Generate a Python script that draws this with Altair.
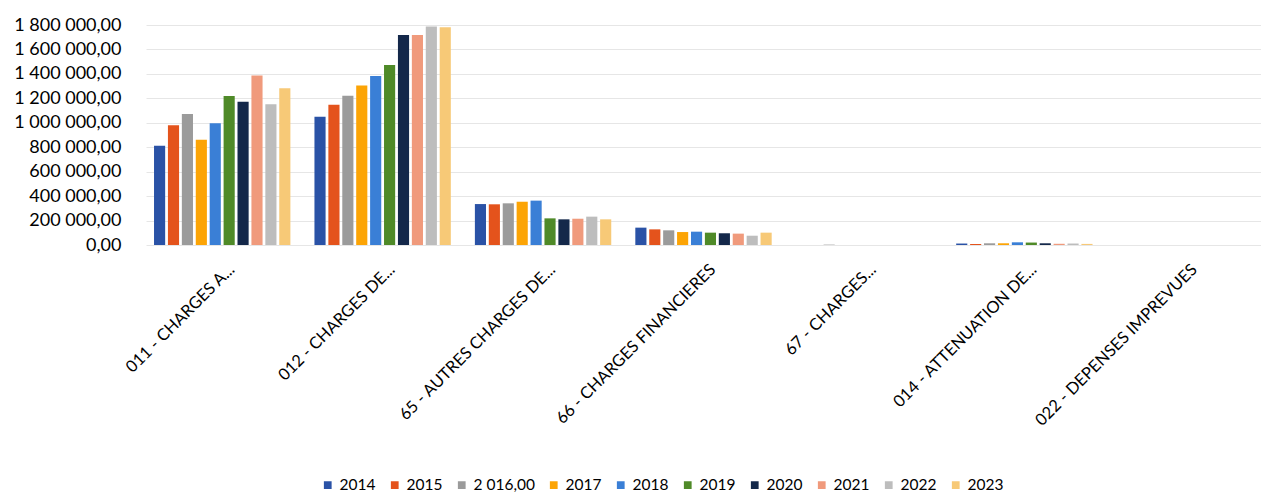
import altair as alt
import pandas as pd

categories = [
    "011 - CHARGES A...",
    "012 - CHARGES DE...",
    "65 - AUTRES CHARGES DE...",
    "66 - CHARGES FINANCIERES",
    "67 - CHARGES...",
    "014 - ATTENUATION DE...",
    "022 - DEPENSES IMPREVUES",
]
years = ["2014", "2015", "2 016,00", "2017", "2018", "2019", "2020", "2021", "2022", "2023"]
colors = ["#2a52a6", "#e4531c", "#9b9b9b", "#fca405", "#3a7fd6", "#4f8a28",
          "#14284a", "#f09a7c", "#bdbdbd", "#f7c977"]

v2014 = [812000, 1050000, 335000, 142000, 0, 12000, 0]
v2015 = [980000, 1148000, 333000, 128000, 0, 8000, 0]
v2016 = [1072000, 1222000, 341000, 120000, 3000, 14000, 0]
v2017 = [862000, 1304000, 354000, 106000, 0, 14000, 0]
v2018 = [996000, 1383000, 363000, 109000, 0, 22000, 0]
v2019 = [1219000, 1473000, 218000, 101000, 0, 20000, 0]
v2020 = [1173000, 1718000, 210000, 96000, 0, 14000, 0]
v2021 = [1386000, 1718000, 215000, 93000, 0, 10000, 0]
v2022 = [1151000, 1787000, 232000, 76000, 0, 12000, 0]
v2023 = [1282000, 1782000, 210000, 101000, 0, 9000, 0]

series = [v2014, v2015, v2016, v2017, v2018, v2019, v2020, v2021, v2022, v2023]
rows = []
for y, vals in zip(years, series):
    for c, v in zip(categories, vals):
        rows.append({"cat": c, "year": y, "value": v})
df = pd.DataFrame(rows)

fmt = "replace(replace(format(datum.value, ',.2f'), regexp(',', 'g'), ' '), '.', ',')"

chart = alt.Chart(df).mark_bar().encode(
    x=alt.X("cat:N", sort=categories,
            scale=alt.Scale(paddingInner=0.15, paddingOuter=0.05),
            axis=alt.Axis(title=None, labelAngle=-45, labelFontSize=16.5, labelFont="Lato",
                          labelColor="#000000", domain=False, ticks=False, labelLimit=400,
                          labelPadding=16, labelOffset=4)),
    xOffset=alt.XOffset("year:N", sort=years, scale=alt.Scale(paddingInner=0.2)),
    y=alt.Y("value:Q", scale=alt.Scale(domain=[0, 1800000]),
            axis=alt.Axis(title=None, values=list(range(0, 1800001, 200000)), labelExpr=fmt,
                          labelFontSize=18, labelFont="Lato", labelColor="#000000",
                          domain=False, ticks=False, gridColor="#e6e6e6", labelPadding=25)),
    color=alt.Color("year:N", sort=years, scale=alt.Scale(domain=years, range=colors),
                    legend=alt.Legend(orient="none", legendX=174, legendY=452, title=None,
                                      direction="horizontal",
                                      symbolType="square", labelFontSize=15.5, labelFont="Lato",
                                      labelColor="#000000", symbolSize=60, columnPadding=11,
                                      labelOffset=4, symbolStrokeWidth=0)),
).properties(
    width=1115, height=220,
    padding={"left": 5, "top": 8, "right": 0, "bottom": 0},
).configure_view(stroke=None)

chart.save("out.html", embed_options={"renderer": "svg", "actions": False})
